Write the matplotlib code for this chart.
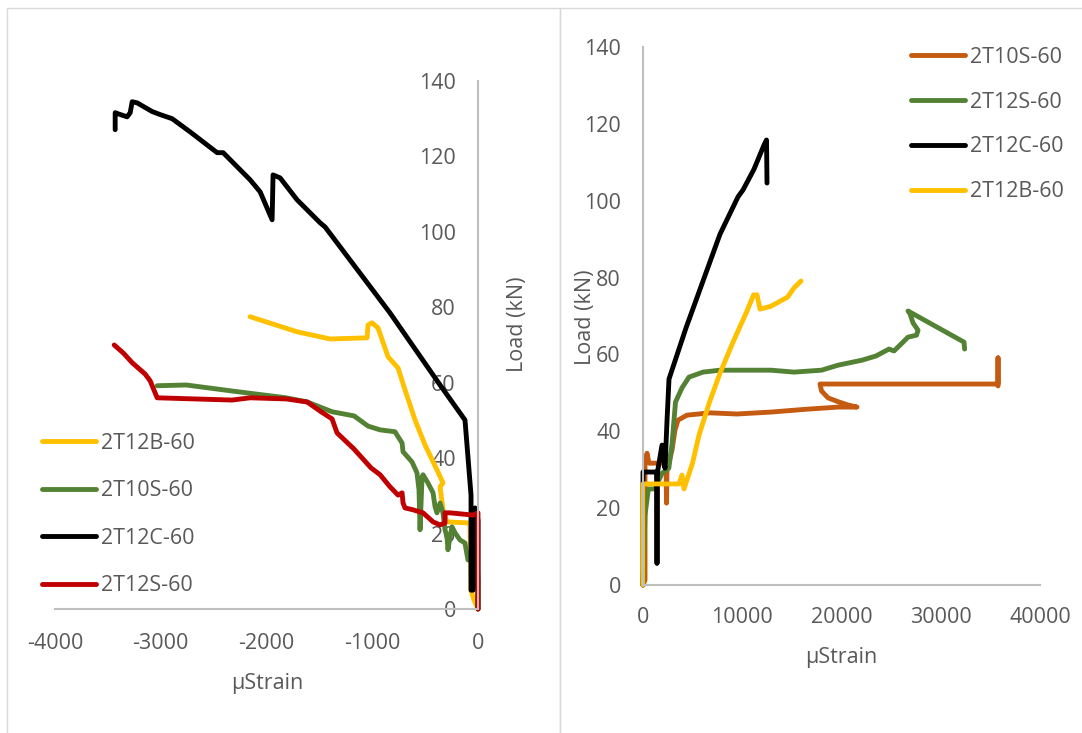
import matplotlib.pyplot as plt
from matplotlib.patches import Rectangle

plt.rcParams['font.family'] = ['Open Sans', 'DejaVu Sans']
plt.rcParams['axes.unicode_minus'] = False

W, H = 1082, 733
GREY = '#595959'
AXIS = '#BFBFBF'

# ---- compression gauges (left chart), strain in µStrain, load in kN ----
c12b_x = [0, -38, -66, -76, -293, -331, -359, -331, -388, -501, -595, -690, -756, -851,
          -945, -1002, -1040, -1049, -1399, -1711, -2155]
c12b_y = [0, 2.4, 5.0, 22.8, 23.1, 26.3, 32.4, 33.4, 36.9, 43.5, 50.1, 58.1, 63.9, 66.9,
          74.5, 75.9, 75.3, 71.9, 71.6, 73.5, 77.5]

c10s_x = [0, 0, -9, -95, -123, -170, -217, -246, -265, -284, -293, -312, -331, -359, -388,
          -406, -425, -473, -520, -529, -548, -558, -577, -624, -709, -718, -785, -926,
          -1040, -1172, -1380, -1616, -1815, -2325, -2760, -3034]
c10s_y = [0, 7.7, 13.0, 13.0, 17.5, 18.3, 20.2, 21.8, 19.1, 15.7, 19.1, 21.0, 25.5, 28.1, 25.5,
          27.1, 30.8, 33.4, 35.6, 35.0, 21.0, 31.6, 36.1, 39.0, 41.7, 44.0, 47.0, 47.5,
          48.5, 51.2, 52.3, 54.9, 56.0, 57.8, 59.4, 59.2]

c12c_x = [0, 0, -28, -47, -66, -66, -123, -359, -832, -1446, -1493, -1711, -1871, -1938,
          -1947, -2060, -2155, -2410, -2467, -2722, -2892, -3006, -3081, -3223, -3270,
          -3289, -3318, -3403, -3431, -3431]
c12c_y = [0, 23.6, 26.8, 5.0, 5.0, 30.2, 50.1, 59.4, 78.5, 101.3, 102.4, 108.5, 114.3, 115.1,
          103.2, 110.6, 113.8, 121.0, 121.0, 126.5, 130.0, 131.1, 131.9, 134.2, 134.5,
          131.6, 130.5, 131.3, 131.6, 127.1]

c12s_x = [0, 0, -47, -265, -312, -312, -359, -425, -520, -614, -690, -709, -718, -756, -832,
          -926, -1011, -1172, -1333, -1380, -1484, -1616, -1815, -2155, -2325, -3034, -3100,
          -3148, -3270, -3355, -3440]
c12s_y = [0, 25.5, 24.9, 25.5, 25.5, 22.8, 22.3, 23.1, 25.5, 26.3, 26.8, 28.1, 30.8, 30.2, 32.4,
          35.6, 37.4, 42.4, 46.7, 50.4, 52.3, 54.9, 55.7, 56.0, 55.4, 56.0, 60.5,
          62.3, 65.3, 67.9, 70.0]

# ---- tension gauges (right chart) ----
t10s_x = [0, 202, 202, 403, 605, 2317, 2368, 2418, 2922, 3224, 3527, 4434, 6751, 9471, 12897,
          16273, 19648, 21563, 20716, 19648, 18641, 17986, 17835, 18641, 35770, 35770, 35770]
t10s_y = [0, 1.3, 31.7, 34.3, 31.7, 31.7, 21.3, 29.9, 35.1, 40.3, 42.9, 44.2, 44.8, 44.5, 45.0,
          45.7, 46.3, 46.3, 46.8, 47.7, 48.7, 50.5, 52.3, 52.3, 52.3, 59.1, 51.8]

t12s_x = [0, 202, 544, 1209, 1914, 2600, 2922, 3275, 3930, 4635, 6046, 7759, 11184, 12897,
          15215, 17986, 19648, 22066, 23477, 24787, 25291, 26198, 26702, 27558, 27710,
          27206, 26903, 26702, 32344, 32405]
t12s_y = [0, 18.2, 25.0, 25.0, 29.1, 30.4, 36.6, 47.6, 51.3, 54.1, 55.4, 55.9, 55.9, 55.9,
          55.4, 55.9, 57.2, 58.5, 59.6, 61.4, 60.9, 63.2, 64.5, 65.0, 66.3,
          68.2, 70.6, 71.3, 63.2, 61.4]

t12c_x = [0, 0, 1411, 1411, 1411, 1914, 2217, 2418, 2620, 4333, 6046, 7759, 9572, 10076,
          11184, 12192, 12444, 12494]
t12c_y = [0, 29.4, 29.4, 5.7, 28.6, 36.4, 30.4, 42.7, 53.6, 66.9, 79.1, 91.3, 101.0, 102.8,
          108.2, 114.5, 115.8, 104.6]

t12b_x = [0, 0, 3627, 3930, 4131, 4988, 5643, 6700, 7728, 9068, 10479, 11144, 11487, 11789,
          12857, 14560, 15215, 15920]
t12b_y = [0, 26.3, 26.3, 28.6, 25.0, 31.7, 39.0, 47.6, 54.9, 63.2, 71.3, 75.5, 75.5, 71.8,
          72.5, 74.9, 77.3, 79.1]

left_series = [
    ('2T12B-60', c12b_x, c12b_y, '#FFC000'),
    ('2T10S-60', c10s_x, c10s_y, '#548235'),
    ('2T12C-60', c12c_x, c12c_y, '#000000'),
    ('2T12S-60', c12s_x, c12s_y, '#C00000'),
]
right_series = [
    ('2T10S-60', t10s_x, t10s_y, '#C55A11'),
    ('2T12S-60', t12s_x, t12s_y, '#548235'),
    ('2T12C-60', t12c_x, t12c_y, '#000000'),
    ('2T12B-60', t12b_x, t12b_y, '#FFC000'),
]

FS = 15.5
LW = 3.5

fig = plt.figure(figsize=(W / 100, H / 100), dpi=100)

# chart frames
fig.patches.append(Rectangle((7 / W, -0.1), (560 - 7) / W, 1.1 - 8 / H,
                             transform=fig.transFigure, fill=False, ec='#D9D9D9', lw=1))
fig.patches.append(Rectangle((560 / W, -0.1), 1.0, 1.1 - 8 / H,
                             transform=fig.transFigure, fill=False, ec='#D9D9D9', lw=1))


def style(ax):
    for s in ['top', 'right']:
        ax.spines[s].set_visible(False)
    for s in ['left', 'bottom']:
        ax.spines[s].set_color(AXIS)
        ax.spines[s].set_linewidth(1.5)
    ax.tick_params(length=0, labelsize=FS, labelcolor=GREY)
    ax.set_ylim(0, 140)
    ax.set_yticks(range(0, 141, 20))


def add_legend(ax, top_px, spacing):
    ax.legend(loc='upper left', bbox_to_anchor=top_px,
              bbox_transform=fig.transFigure, frameon=False, fontsize=FS,
              labelcolor=GREY, handlelength=2.5, handletextpad=0.25,
              labelspacing=spacing, borderpad=0, borderaxespad=0)


# left chart
ax1 = fig.add_axes([55 / W, 1 - 609 / H, 423 / W, 528 / H])
for name, x, y, c in left_series:
    ax1.plot(x, y, color=c, lw=LW, label=name, clip_on=False,
             solid_joinstyle='round', solid_capstyle='round')
style(ax1)
ax1.set_xlim(-4000, 0)
ax1.set_xticks(range(-4000, 1, 1000))
ax1.spines['left'].set_position(('data', 0))
ax1.tick_params(axis='y', pad=16)
ax1.tick_params(axis='x', pad=17)
ax1.set_xlabel('µStrain', fontsize=FS, color=GREY)
ax1.xaxis.set_label_coords(0.501, -0.122)
ax1.set_ylabel('Load (kN)', fontsize=FS, color=GREY)
ax1.yaxis.set_label_coords(1.118, 0.54)
add_legend(ax1, (42 / W, 1 - 433 / H), 1.23)

# right chart
ax2 = fig.add_axes([643 / W, 1 - 585 / H, 397 / W, 538 / H])
for name, x, y, c in right_series:
    ax2.plot(x, y, color=c, lw=LW, label=name, clip_on=False,
             solid_joinstyle='round', solid_capstyle='round')
style(ax2)
ax2.set_xlim(0, 40000)
ax2.set_xticks(range(0, 40001, 10000))
ax2.tick_params(axis='y', pad=16)
ax2.tick_params(axis='x', pad=16)
ax2.set_xlabel('µStrain', fontsize=FS, color=GREY)
ax2.xaxis.set_label_coords(0.5, -0.116)
ax2.set_ylabel('Load (kN)', fontsize=FS, color=GREY)
ax2.yaxis.set_label_coords(-0.118, 0.498)
add_legend(ax2, (911 / W, 1 - 47 / H), 1.1)

fig.savefig('out.png', dpi=100)
